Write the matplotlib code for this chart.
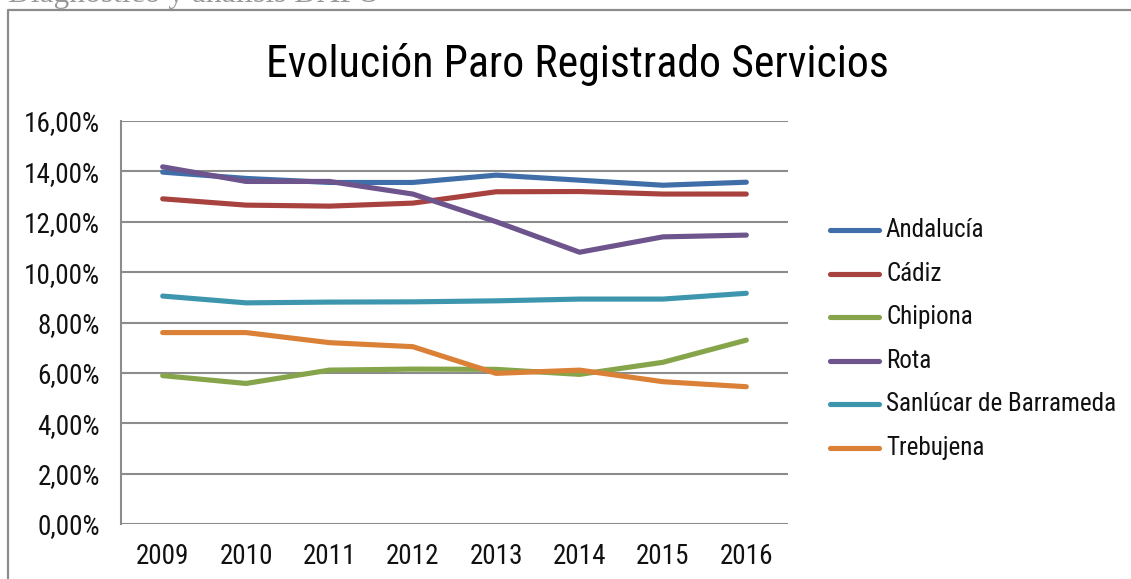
import matplotlib
matplotlib.use("Agg")
import matplotlib.pyplot as plt
from matplotlib.lines import Line2D
from matplotlib.ticker import FuncFormatter
from matplotlib import font_manager as fm

years = ["2009", "2010", "2011", "2012", "2013", "2014", "2015", "2016"]

andalucia = [13.97, 13.72, 13.56, 13.56, 13.85, 13.65, 13.45, 13.57]
cadiz = [12.91, 12.66, 12.62, 12.74, 13.19, 13.20, 13.10, 13.10]
chipiona = [5.89, 5.58, 6.11, 6.15, 6.14, 5.94, 6.42, 7.30]
rota = [14.18, 13.60, 13.60, 13.10, 12.00, 10.79, 11.40, 11.47]
sanlucar = [9.05, 8.78, 8.81, 8.82, 8.86, 8.93, 8.93, 9.16]
trebujena = [7.60, 7.60, 7.20, 7.04, 5.98, 6.11, 5.65, 5.45]

series_names = ["Andalucía", "Cádiz", "Chipiona", "Rota",
                "Sanlúcar de Barrameda", "Trebujena"]
series_values = [andalucia, cadiz, chipiona, rota, sanlucar, trebujena]
series_colors = ["#3F6EA8", "#A8423F", "#86A44A", "#6E548D", "#3D96AE", "#DA8137"]

y_ticks = [0, 2, 4, 6, 8, 10, 12, 14, 16]

W, H = 1131, 579
GRID = "#8c8c8c"
LW = 3.7

available = {f.name for f in fm.fontManager.ttflist}


def pick(prefs, default):
    for p in prefs:
        if p in available:
            return p
    return default


SANS = pick(["Roboto Condensed", "Barlow Semi Condensed", "PT Sans Narrow",
             "Archivo Narrow", "Liberation Sans Narrow", "Open Sans Condensed"],
            "DejaVu Sans")
SERIF = pick(["Liberation Serif", "DejaVu Serif"], "serif")
FONT = [SANS, "DejaVu Sans"]

fig = plt.figure(figsize=(W / 100, H / 100), dpi=100)
renderer = fig.canvas.get_renderer()


def fit_size(text, family, target_px, base=20):
    t = fig.text(0, 0, text, family=family, fontsize=base)
    w = t.get_window_extent(renderer).width
    t.remove()
    return base * target_px / w


tick_size = fit_size("16,00%", FONT, 76)
title_size = fit_size("Evolución Paro Registrado Servicios", FONT, 621)
legend_size = fit_size("Sanlúcar de Barrameda", FONT, 230)
header_size = fit_size("Diagnóstico y análisis DAFO", SERIF, 372)

# page header, cut off above the chart frame
fig.text(8 / W, 1 - 2 / H, "Diagnóstico y análisis DAFO",
         family=SERIF, fontsize=header_size, color="#999999",
         ha="left", va="baseline")

# chart frame
frame = Line2D([8 / W, 8 / W, 1.01], [-0.01, 1 - 10 / H, 1 - 10 / H],
               transform=fig.transFigure, color="#8c8c8c", lw=1.6)
fig.add_artist(frame)

ax = fig.add_axes([121 / W, 1 - 524 / H, (788 - 121) / W, (524 - 121) / H])

x = list(range(len(years)))
for name, vals, col in zip(series_names, series_values, series_colors):
    ax.plot(x, vals, color=col, lw=LW, solid_capstyle="round",
            solid_joinstyle="round", label=name)

ax.set_xlim(-0.5, len(years) - 0.5)
ax.set_ylim(0, 16)
ax.set_yticks(y_ticks)
ax.yaxis.set_major_formatter(FuncFormatter(lambda v, p: f"{v:.2f}%".replace(".", ",")))
ax.set_xticks(x)
ax.set_xticklabels(years)

ax.grid(axis="y", color=GRID, lw=1.5)
ax.set_axisbelow(True)
for s in ["top", "right", "bottom"]:
    ax.spines[s].set_visible(False)
ax.spines["left"].set_color(GRID)
ax.spines["left"].set_linewidth(1.5)
ax.tick_params(axis="both", length=0, labelsize=tick_size, colors="#111111")
ax.tick_params(axis="y", pad=15)
ax.tick_params(axis="x", pad=14)
for lab in ax.get_xticklabels() + ax.get_yticklabels():
    lab.set_family(FONT)

fig.text(577 / W, 1 - 64 / H, "Evolución Paro Registrado Servicios",
         family=FONT, fontsize=title_size, ha="center", va="center", color="#000000")

# legend: one short line and a label per series
leg_top, leg_step = 230, 43.6
for i, (name, col) in enumerate(zip(series_names, series_colors)):
    yy = 1 - (leg_top + i * leg_step) / H
    fig.add_artist(Line2D([830 / W, 879 / W], [yy, yy], transform=fig.transFigure,
                          color=col, lw=LW, solid_capstyle="round"))
    fig.text(886 / W, yy, name, family=FONT, fontsize=legend_size,
             color="#111111", ha="left", va="center")

fig.savefig("out.png", dpi=100)
